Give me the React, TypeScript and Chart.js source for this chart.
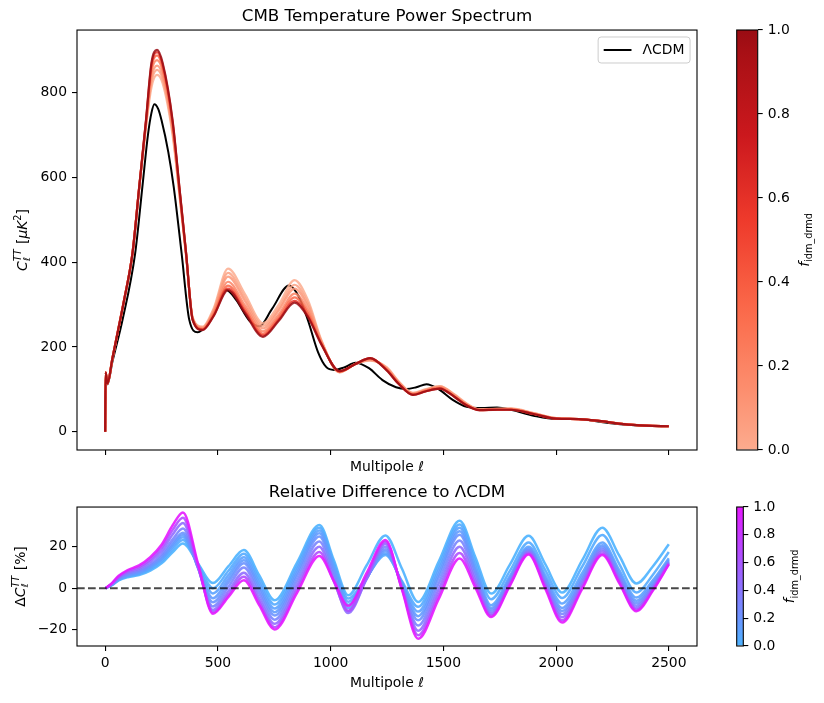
import React, { useEffect, useRef } from "react";
import { Chart, registerables } from "chart.js";

Chart.register(...registerables);

// ---------------- data ----------------
const X_TICKS = [0, 500, 1000, 1500, 2000, 2500];
const TOP_Y_TICKS = [0, 200, 400, 600, 800];
const BOT_Y_TICKS = [-20, 0, 20];
const CB_TICKS = [0, 0.2, 0.4, 0.6, 0.8, 1.0];
const CB_RANGE = [0, 1];

const X_RANGE = [-125, 2625];
const TOP_Y_RANGE = [-43, 948];
const BOT_Y_RANGE = [-27.9, 39.2];

const LCDM_LABEL = "ΛCDM";
const LCDM_ELL = [0, 2, 10, 32, 77, 133, 165, 190, 205, 218, 235, 250, 280, 304, 339, 373, 410, 450, 490, 535, 580, 640, 684, 740, 815, 860, 900, 944, 980, 1015, 1060, 1110, 1170, 1230, 1290, 1336, 1380, 1425, 1480, 1540, 1603, 1670, 1738, 1800, 1900, 2000, 2100, 2200, 2300, 2400, 2500];
const LCDM_CL = [0, 138, 112, 165, 264, 421, 578, 702, 752, 773, 762, 735, 660, 578, 421, 264, 235, 252, 292, 335, 312, 262, 249, 290, 345, 318, 262, 188, 153, 146, 152, 163, 150, 122, 105, 101, 105, 112, 100, 76, 59, 56, 57, 52, 38, 30, 30, 23, 17, 14, 13];

// C_l^TT for several f_idm_drmd values
const TOP_ELL = [0, 2, 10, 32, 62, 84, 121, 151, 181, 205, 230, 255, 299, 329, 359, 388, 432, 480, 545, 620, 700, 770, 840, 900, 960, 1040, 1110, 1175, 1250, 1300, 1365, 1420, 1484, 1550, 1600, 1660, 1740, 1800, 1900, 2000, 2100, 2200, 2300, 2400, 2500];
const TOP_F = [0, 0.05, 0.1, 0.2, 0.35, 0.6, 1.0];
const CL_F000 = [0, 140, 114, 173, 252, 311, 421, 575, 720, 812, 842, 822, 700, 560, 415, 270, 248, 290, 385, 325, 256, 300, 358, 310, 215, 140, 160, 168, 152, 120, 92, 100, 108, 88, 68, 53, 54, 55, 44, 32, 30, 25, 18.5, 14.5, 13];
const CL_F005 = [0, 140, 114, 173, 252, 311, 421, 576, 723, 824, 854, 832, 707, 564, 416, 269, 246, 286, 375, 316, 250, 292, 347, 302, 213, 141, 160, 169, 150, 119, 91, 99, 107, 87, 67, 53, 54, 54, 44, 32, 30, 25, 18.4, 14.5, 13];
const CL_F010 = [0, 140, 114, 173, 252, 311, 421, 576, 726, 834, 864, 840, 713, 567, 417, 268, 245, 283, 366, 308, 244, 286, 338, 295, 211, 141, 160, 170, 149, 118, 90, 98, 106, 86, 66, 52, 53, 54, 43, 32, 30, 25, 18.3, 14.5, 13];
const CL_F020 = [0, 140, 114, 173, 252, 311, 421, 577, 729, 847, 877, 851, 721, 571, 419, 266, 243, 279, 354, 298, 237, 277, 326, 286, 209, 142, 160, 172, 147, 116, 89, 97, 104, 84, 65, 52, 53, 53, 43, 31, 30, 25, 18.2, 14.5, 13];
const CL_F035 = [0, 140, 114, 173, 252, 311, 421, 577, 732, 857, 888, 859, 727, 574, 420, 265, 242, 276, 345, 290, 231, 270, 317, 279, 207, 142, 160, 173, 146, 115, 88, 96, 103, 83, 64, 51, 52, 53, 42, 31, 30, 25, 18.1, 14.5, 13];
const CL_F060 = [0, 140, 114, 173, 252, 311, 421, 578, 734, 865, 896, 866, 732, 577, 421, 264, 241, 273, 338, 284, 227, 265, 309, 273, 206, 143, 160, 174, 145, 114, 87, 95, 102, 82, 63, 51, 52, 52, 42, 31, 30, 25, 18, 14.5, 13];
const CL_F100 = [0, 140, 114, 173, 252, 311, 421, 578, 735, 870, 901, 870, 735, 578, 421, 264, 240, 272, 334, 280, 224, 262, 305, 270, 205, 143, 160, 174, 144, 114, 87, 95, 102, 82, 63, 51, 52, 52, 42, 31, 30, 25, 18, 14.5, 13];
const TOP_CURVES = [CL_F000, CL_F005, CL_F010, CL_F020, CL_F035, CL_F060, CL_F100];

// relative difference to LCDM [%]
const BOT_ELL = [2, 30, 60, 100, 150, 200, 250, 300, 345, 411, 478, 546, 615, 683, 752, 851, 950, 1014, 1078, 1160, 1243, 1316, 1388, 1480, 1572, 1642, 1712, 1795, 1878, 1952, 2027, 2116, 2205, 2280, 2356, 2428, 2500];
const BOT_F = [0, 0.05, 0.1, 0.15, 0.2, 0.3, 0.45, 0.65, 1.0];
const D_F000 = [0, 1.5, 3.8, 5.3, 6.3, 8.5, 12, 17.5, 21.6, 12.1, 2.5, 10.5, 18.4, 6.3, -5.8, 12.4, 30.5, 13.6, -3.4, 11.1, 25.5, 9.5, -6.6, 13, 32.6, 15, -2.6, 11.4, 25.3, 11.6, -2.1, 13.6, 29.2, 15.8, 2.3, 10.4, 21.2];
const D_F005 = [0, 1.6, 4.0, 5.7, 6.8, 9.2, 13.0, 18.9, 23.3, 11.7, 0, 8.3, 16.6, 4.4, -7.9, 10.7, 29.2, 12.1, -5, 5.5, 16, 3.5, -9, 10.9, 30.8, 12.8, -5.3, 8.4, 22.1, 8.7, -4.7, 10.5, 25.7, 11.8, -2.1, 6.3, 17.5];
const D_F010 = [0, 1.7, 4.2, 6.0, 7.2, 9.8, 13.8, 20.1, 24.6, 11.1, -2.5, 6.3, 15.0, 2.6, -9.8, 9.1, 27.9, 10.7, -6.5, 5.2, 16.8, 2.8, -11.3, 9, 29.2, 10.5, -8.2, 5.9, 20, 6.3, -7.4, 7.4, 22.1, 8.8, -4.5, 3.7, 14.5];
const D_F015 = [0, 1.8, 4.4, 6.2, 7.6, 10.3, 14.4, 21.0, 25.7, 10.5, -4.8, 4.4, 13.5, 1.0, -11.6, 7.5, 26.5, 9.3, -8, 4.9, 17.8, 2.2, -13.5, 7, 27.5, 9, -9.5, 4.9, 19.2, 4.9, -9.5, 5.7, 20.8, 7.4, -6, 2.5, 13.7];
const D_F020 = [0, 1.85, 4.6, 6.5, 8.0, 10.8, 15.2, 22.1, 26.8, 10, -6.8, 2.6, 12.0, -0.6, -13.2, 5.9, 25, 7.8, -9.5, 4.7, 18.8, 1.7, -15.5, 5.2, 25.8, 7.7, -10.5, 4.1, 18.6, 3.8, -11, 4.4, 19.8, 6.3, -7.3, 1.5, 13.1];
const D_F030 = [0, 2.0, 4.9, 7.0, 8.6, 11.6, 16.3, 23.7, 28.8, 10, -8.8, 0.6, 10, -2.6, -15.2, 3.7, 22.5, 5.8, -11, 4.5, 20, 1, -18, 2.5, 23, 5.8, -11.5, 3.3, 18, 2.8, -12.5, 3.2, 18.8, 5.2, -8.5, 0.6, 12.6];
const D_F045 = [0, 2.2, 5.3, 7.6, 9.4, 12.8, 17.9, 26.1, 31.5, 10.5, -10.5, -1.5, 7.5, -4.9, -17.2, 1.4, 20, 4, -12, 4.7, 21.3, 0.4, -20.5, -0.3, 20, 3.8, -12.5, 2.5, 17.4, 1.7, -14, 1.9, 17.8, 4.1, -9.6, -0.2, 12.2];
const D_F065 = [0, 2.3, 5.6, 8.2, 10.2, 13.9, 19.5, 28.3, 34, 11.2, -11.6, -3.1, 5.5, -6.7, -18.8, -0.7, 17.5, 3.3, -11, 5.7, 22.4, -0.2, -22.7, -2.9, 17, 1.9, -13.3, 1.8, 16.8, 0.7, -15.5, 0.7, 16.8, 3.2, -10.5, -0.9, 11.8];
const D_F100 = [0, 2.5, 6.0, 8.8, 11, 15, 21, 30.5, 36.6, 12.2, -12.3, -4.3, 3.8, -8.1, -19.9, -2.2, 15.6, 3.6, -8.5, 7.4, 23.3, -0.6, -24.4, -5, 14.4, 0.3, -13.9, 1.2, 16.3, -0.2, -16.6, -0.3, 16, 2.5, -11.1, -1.4, 11.5];
const BOT_CURVES = [D_F000, D_F005, D_F010, D_F015, D_F020, D_F030, D_F045, D_F065, D_F100];

const ZERO_X = [-125, 2625];
const ZERO_Y = [0, 0];

// ---------------- styling ----------------
const FONT = '"DejaVu Sans", "Liberation Sans", sans-serif';
const FS = 13.9;
const TITLE_FS = 16.7;

Chart.defaults.font.family = FONT;
Chart.defaults.font.size = FS;
Chart.defaults.color = "#000";

// matplotlib "Reds" colormap stops
const REDS = [
  [255, 245, 240], [254, 224, 210], [252, 187, 161], [252, 146, 114],
  [251, 106, 74], [239, 59, 44], [203, 24, 29], [165, 15, 21], [103, 0, 13],
];
function reds(t: number): number[] {
  const p = Math.min(Math.max(t, 0), 1) * (REDS.length - 1);
  const i = Math.min(Math.floor(p), REDS.length - 2);
  const u = p - i;
  return REDS[i].map((c, k) => c + (REDS[i + 1][k] - c) * u);
}
function cool(t: number): number[] {
  return [255 * t, 255 * (1 - t), 255];
}
const cmapTop = (f: number) => reds(0.3 + 0.6 * f);
const cmapBot = (f: number) => cool(0.3 + 0.6 * f);
const rgba = (c: number[], a = 1) =>
  `rgba(${Math.round(c[0])},${Math.round(c[1])},${Math.round(c[2])},${a})`;

// ---------------- plugins ----------------
const framePlugin = {
  id: "frame",
  afterDraw(chart: any) {
    const { ctx, chartArea: a } = chart;
    ctx.save();
    ctx.strokeStyle = "#000";
    ctx.lineWidth = 1.1;
    ctx.strokeRect(a.left, a.top, a.right - a.left, a.bottom - a.top);
    ctx.restore();
  },
};

type Piece = { t: string; s?: number; it?: boolean; dy?: number } | { sub: string; sup: string };
const fontStr = (size: number, it: boolean) => `${it ? "italic " : ""}${size}px ${FONT}`;

function drawMath(ctx: CanvasRenderingContext2D, pieces: Piece[], cx: number, cy: number) {
  ctx.save();
  ctx.translate(cx, cy);
  ctx.rotate(-Math.PI / 2);
  ctx.fillStyle = "#000";
  ctx.textBaseline = "alphabetic";
  ctx.textAlign = "left";
  const small = FS * 0.7;
  const widths = pieces.map((p: any) => {
    if ("sub" in p) {
      ctx.font = fontStr(small, true);
      return Math.max(ctx.measureText(p.sub).width, ctx.measureText(p.sup).width) + 1;
    }
    ctx.font = fontStr(p.s ?? FS, !!p.it);
    return ctx.measureText(p.t).width;
  });
  const total = widths.reduce((a, b) => a + b, 0);
  let x = -total / 2;
  const base = FS * 0.36;
  pieces.forEach((p: any, i) => {
    if ("sub" in p) {
      ctx.font = fontStr(small, true);
      ctx.fillText(p.sub, x, base + FS * 0.25);
      ctx.fillText(p.sup, x, base - FS * 0.45);
    } else {
      ctx.font = fontStr(p.s ?? FS, !!p.it);
      ctx.fillText(p.t, x, base + (p.dy ?? 0));
    }
    x += widths[i];
  });
  ctx.restore();
}

function yLabelPlugin(pieces: Piece[], side: "left" | "right", offset: number) {
  return {
    id: "ylabel-" + side,
    afterDraw(chart: any) {
      const a = chart.chartArea;
      const cx = side === "left" ? a.left - offset : a.right + offset;
      drawMath(chart.ctx, pieces, cx, (a.top + a.bottom) / 2);
    },
  };
}

const legendPlugin = {
  id: "insideLegend",
  afterDraw(chart: any) {
    const { ctx, chartArea: a } = chart;
    const ds = chart.data.datasets.find((d: any) => d.inLegend);
    if (!ds) return;
    ctx.save();
    ctx.font = `${FS}px ${FONT}`;
    const tw = ctx.measureText(ds.label).width;
    const pad = 0.4 * FS, hl = 2 * FS, htp = 0.8 * FS;
    const w = pad + hl + htp + tw + pad;
    const h = 26;
    const x0 = a.right - 0.5 * FS - w;
    const y0 = a.top + 0.5 * FS;
    ctx.beginPath();
    (ctx as any).roundRect(x0, y0, w, h, 3);
    ctx.fillStyle = "rgba(255,255,255,0.8)";
    ctx.fill();
    ctx.strokeStyle = "#cccccc";
    ctx.lineWidth = 1;
    ctx.stroke();
    const ym = y0 + h / 2;
    ctx.beginPath();
    ctx.moveTo(x0 + pad, ym);
    ctx.lineTo(x0 + pad + hl, ym);
    ctx.strokeStyle = ds.borderColor;
    ctx.lineWidth = ds.borderWidth;
    ctx.stroke();
    ctx.fillStyle = "#000";
    ctx.textBaseline = "middle";
    ctx.fillText(ds.label, x0 + pad + hl + htp, ym + 0.5);
    ctx.restore();
  },
};

// ---------------- helpers ----------------
const pts = (xs: number[], ys: number[]) => xs.map((x, i) => ({ x, y: ys[i] }));

function lineDs(label: string, xs: number[], ys: number[], color: string, width: number, order: number, extra: any = {}) {
  return {
    label,
    data: pts(xs, ys),
    borderColor: color,
    borderWidth: width,
    pointRadius: 0,
    fill: false,
    cubicInterpolationMode: "monotone",
    order,
    ...extra,
  };
}

const tickGrid = { drawOnChartArea: false, drawTicks: true, tickLength: 5, color: "#000", lineWidth: 1.1 };
const fmt = (v: number) => String(v).replace("-", "\u2212");

function xScale(showLabels: boolean, height: number) {
  return {
    type: "linear",
    min: X_RANGE[0],
    max: X_RANGE[1],
    afterBuildTicks: (s: any) => { s.ticks = X_TICKS.map((v) => ({ value: v })); },
    afterFit: (s: any) => { s.height = height; },
    ticks: { callback: (v: number) => (showLabels ? fmt(v) : ""), padding: 4, color: "#000", maxRotation: 0, autoSkip: false },
    grid: tickGrid,
    border: { display: false },
    title: { display: true, text: "Multipole ℓ", color: "#000", font: { size: FS } },
  };
}

function yScale(range: number[], ticks: number[]) {
  return {
    type: "linear",
    min: range[0],
    max: range[1],
    afterBuildTicks: (s: any) => { s.ticks = ticks.map((v) => ({ value: v })); },
    afterFit: (s: any) => { s.width = 77; },
    ticks: { callback: (v: number) => fmt(v), padding: 5, color: "#000" },
    grid: tickGrid,
    border: { display: false },
  };
}

// ---------------- chart builders ----------------
function buildTop(canvas: HTMLCanvasElement) {
  const N = TOP_F.length;
  const datasets: any[] = [
    lineDs(LCDM_LABEL, LCDM_ELL, LCDM_CL, "#000000", 2, 100, { inLegend: true }),
    ...TOP_CURVES.map((c, k) => lineDs(`f=${TOP_F[k]}`, TOP_ELL, c, rgba(cmapTop(TOP_F[k]), 0.85), 2.2, N - k)),
  ];
  return new Chart(canvas, {
    type: "line",
    data: { datasets },
    options: {
      responsive: false,
      animation: false,
      events: [],
      layout: { padding: { left: 0, right: 13, top: 0, bottom: 0 } },
      plugins: {
        legend: { display: false },
        tooltip: { enabled: false },
        title: {
          display: true,
          text: "CMB Temperature Power Spectrum",
          fullSize: false,
          color: "#000",
          font: { size: TITLE_FS, weight: "normal" },
          padding: { top: 7, bottom: 3 },
        },
      },
      scales: { x: xScale(false, 30), y: yScale(TOP_Y_RANGE, TOP_Y_TICKS) },
    },
    plugins: [
      framePlugin,
      legendPlugin,
      yLabelPlugin([{ t: "C", it: true }, { sub: "ℓ", sup: "TT" }, { t: " [" }, { t: "μK", it: true }, { t: "2", s: FS * 0.7, dy: -FS * 0.45 }, { t: "]" }], "left", 55),
    ],
  } as any);
}

function buildBottom(canvas: HTMLCanvasElement) {
  const N = BOT_F.length;
  const datasets: any[] = [
    ...BOT_CURVES.map((c, k) => lineDs(`f=${BOT_F[k]}`, BOT_ELL, c, rgba(cmapBot(BOT_F[k]), 0.9), 2.5, N - k)),
    lineDs("zero", ZERO_X, ZERO_Y, "rgba(0,0,0,0.72)", 2, -1, { borderDash: [7.7, 3.3], cubicInterpolationMode: "default", tension: 0 }),
  ];
  return new Chart(canvas, {
    type: "line",
    data: { datasets },
    options: {
      responsive: false,
      animation: false,
      events: [],
      layout: { padding: { left: 0, right: 13, top: 0, bottom: 7 } },
      plugins: {
        legend: { display: false },
        tooltip: { enabled: false },
        title: {
          display: true,
          text: "Relative Difference to ΛCDM",
          fullSize: false,
          color: "#000",
          font: { size: TITLE_FS, weight: "normal" },
          padding: { top: 3, bottom: 4 },
        },
      },
      scales: { x: xScale(true, 50), y: yScale(BOT_Y_RANGE, BOT_Y_TICKS) },
    },
    plugins: [
      framePlugin,
      yLabelPlugin([{ t: "Δ" }, { t: "C", it: true }, { sub: "ℓ", sup: "TT" }, { t: " [%]" }], "left", 57),
    ],
  } as any);
}

function buildColorbar(cmap: (f: number) => number[], padTop: number, padBottom: number, left: number, axisW: number) {
  return (canvas: HTMLCanvasElement) =>
    new Chart(canvas, {
      type: "bar",
      data: {
        labels: [""],
        datasets: [
          {
            data: [CB_RANGE],
            barPercentage: 1,
            categoryPercentage: 1,
            borderWidth: 0,
            inflateAmount: 0,
            backgroundColor: (c: any) => {
              const a = c.chart.chartArea;
              if (!a) return "transparent";
              const g = c.chart.ctx.createLinearGradient(0, a.bottom, 0, a.top);
              for (let i = 0; i <= 20; i++) g.addColorStop(i / 20, rgba(cmap(i / 20)));
              return g;
            },
          },
        ],
      },
      options: {
        responsive: false,
        animation: false,
        events: [],
        layout: { padding: { left, right: 0, top: padTop, bottom: padBottom } },
        plugins: { legend: { display: false }, tooltip: { enabled: false } },
        scales: {
          x: { display: false },
          y: {
            position: "right",
            min: CB_RANGE[0],
            max: CB_RANGE[1],
            afterBuildTicks: (s: any) => { s.ticks = CB_TICKS.map((v) => ({ value: v })); },
            afterFit: (s: any) => { s.width = axisW; },
            ticks: { callback: (v: number) => v.toFixed(1), padding: 5, color: "#000" },
            grid: tickGrid,
            border: { display: false },
          },
        },
      },
      plugins: [
        framePlugin,
        yLabelPlugin([{ t: "f", it: true }, { t: "idm_drmd", s: FS * 0.7, dy: FS * 0.25 }], "right", 46),
      ],
    } as any);
}

const buildTopCb = buildColorbar(cmapTop, 30, 30, 16.7, 66.3);
const buildBotCb = buildColorbar(cmapBot, 27, 57, 16.7, 80.7);

// ---------------- components ----------------
function Panel({ left, top, width, height, build }: any) {
  const ref = useRef<HTMLCanvasElement>(null);
  useEffect(() => {
    const chart = build(ref.current);
    return () => chart.destroy();
  }, [build]);
  return (
    <canvas
      ref={ref}
      width={width}
      height={height}
      style={{ position: "absolute", left, top, width, height }}
    />
  );
}

export default function App() {
  return (
    <div style={{ position: "fixed", left: 0, top: 0, width: 824, height: 703, background: "#fff" }}>
      <Panel left={0} top={0} width={710} height={480} build={buildTop} />
      <Panel left={720} top={0} width={104} height={480} build={buildTopCb} />
      <Panel left={0} top={480} width={710} height={223} build={buildBottom} />
      <Panel left={720} top={480} width={104} height={223} build={buildBotCb} />
    </div>
  );
}
